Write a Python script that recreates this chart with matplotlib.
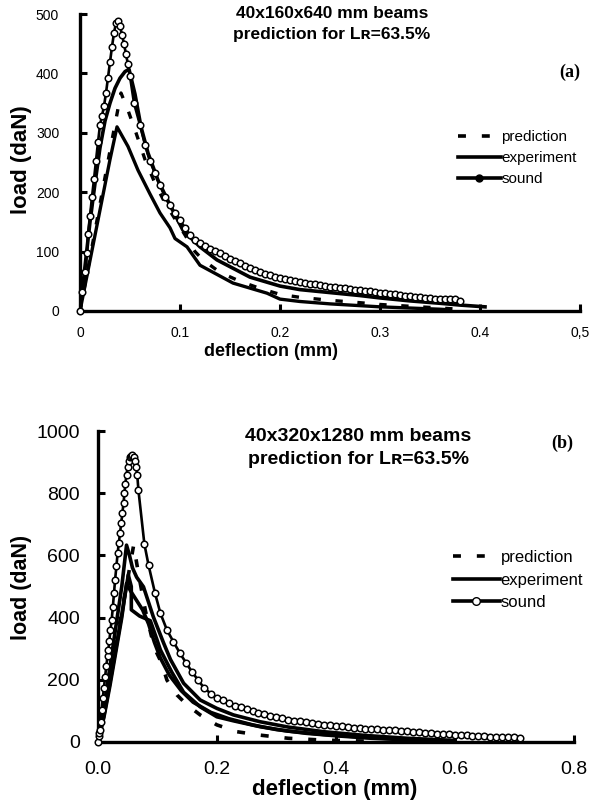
import matplotlib
matplotlib.use('Agg')
import matplotlib.pyplot as plt
from matplotlib.lines import Line2D

plt.rcParams['font.family'] = ['Liberation Sans', 'DejaVu Sans']

# ---------------- panel (a): 40x160x640 mm beams ----------------
a_sound_x = [0, 0.002, 0.005, 0.007, 0.008, 0.010, 0.012, 0.014, 0.016, 0.018,
             0.020, 0.022, 0.024, 0.026, 0.028, 0.030, 0.032, 0.034, 0.036, 0.038,
             0.040, 0.042, 0.044, 0.046, 0.048, 0.050, 0.054, 0.060, 0.065, 0.070,
             0.075, 0.080, 0.085, 0.090, 0.095, 0.100, 0.105, 0.110, 0.115, 0.120,
             0.125, 0.130, 0.135, 0.140, 0.145, 0.150, 0.155, 0.160, 0.165, 0.170,
             0.175, 0.180, 0.185, 0.190, 0.195, 0.200, 0.205, 0.210, 0.215, 0.220,
             0.225, 0.230, 0.235, 0.240, 0.245, 0.250, 0.255, 0.260, 0.265, 0.270,
             0.275, 0.280, 0.285, 0.290, 0.295, 0.300, 0.305, 0.310, 0.315, 0.320,
             0.325, 0.330, 0.335, 0.340, 0.345, 0.350, 0.355, 0.360, 0.365, 0.370,
             0.375, 0.380]
a_sound_y = [0, 32, 65, 97, 130, 160, 192, 222, 253, 284,
             313, 328, 345, 367, 393, 419, 445, 468, 485, 488,
             480, 465, 450, 432, 415, 395, 350, 313, 280, 252,
             232, 212, 192, 178, 165, 153, 140, 128, 120, 115,
             110, 105, 101, 97, 92, 88, 84, 80, 76, 72,
             69, 66, 63, 61, 58, 56, 54, 52, 50, 49,
             47, 46, 45, 44, 42, 41, 40, 39, 38, 37,
             36, 35, 34, 33, 32, 31, 30, 29, 28, 27,
             26, 25, 24, 23, 22, 22, 21, 21, 21, 21,
             20, 17]

a_exp1_x = [0, 0.005, 0.010, 0.015, 0.020, 0.025, 0.030, 0.035, 0.040, 0.045,
            0.049, 0.055, 0.061, 0.068, 0.078, 0.091, 0.103, 0.120, 0.137, 0.170,
            0.200, 0.220, 0.250, 0.280, 0.300, 0.330, 0.360, 0.380, 0.405]
a_exp1_y = [0, 75, 150, 215, 275, 320, 350, 375, 392, 403,
            407, 365, 310, 266, 220, 175, 136, 108, 86, 57,
            42, 36, 31, 26, 22, 17, 13, 10, 7]

a_exp2_x = [0, 0.010, 0.020, 0.030, 0.037, 0.048, 0.058, 0.070, 0.080, 0.090,
            0.095, 0.107, 0.120, 0.153, 0.187, 0.200, 0.220, 0.250, 0.280, 0.300,
            0.330, 0.360, 0.370]
a_exp2_y = [0, 85, 170, 255, 310, 277, 237, 197, 165, 140,
            122, 108, 77, 47, 30, 20, 16, 12, 9, 7,
            5, 3, 2]

a_pred_x = [0, 0.010, 0.020, 0.030, 0.041, 0.048, 0.056, 0.065, 0.075, 0.085,
            0.095, 0.105, 0.115, 0.123, 0.140, 0.160, 0.180, 0.200, 0.220, 0.250,
            0.280, 0.300, 0.330, 0.360, 0.380]
a_pred_y = [0, 90, 180, 270, 367, 338, 300, 255, 215, 182,
            155, 128, 100, 86, 65, 50, 38, 28, 23, 18,
            14, 11, 8, 5, 3]

a_xticks = [0, 0.1, 0.2, 0.3, 0.4, 0.5]
a_xticklabels = ['0', '0.1', '0.2', '0.3', '0.4', '0,5']
a_yticks = [0, 100, 200, 300, 400, 500]

# ---------------- panel (b): 40x320x1280 mm beams ----------------
b_sound_x = [0, 0.001, 0.002, 0.0035, 0.005, 0.006, 0.008, 0.010, 0.012, 0.014,
             0.016, 0.0175, 0.019, 0.021, 0.023, 0.025, 0.027, 0.0287, 0.031, 0.033,
             0.035, 0.037, 0.039, 0.041, 0.043, 0.0445, 0.046, 0.048, 0.050, 0.052,
             0.054, 0.056, 0.058, 0.060, 0.062, 0.064, 0.066, 0.068, 0.078, 0.085,
             0.096, 0.105, 0.116, 0.127, 0.138, 0.148, 0.158, 0.168, 0.178, 0.190,
             0.200, 0.210, 0.220, 0.230, 0.240, 0.250, 0.260, 0.270, 0.280, 0.290,
             0.300, 0.310, 0.320, 0.330, 0.340, 0.350, 0.360, 0.370, 0.380, 0.390,
             0.400, 0.410, 0.420, 0.430, 0.440, 0.450, 0.460, 0.470, 0.480, 0.490,
             0.500, 0.510, 0.520, 0.530, 0.540, 0.550, 0.560, 0.570, 0.580, 0.590,
             0.600, 0.610, 0.620, 0.630, 0.640, 0.650, 0.660, 0.670, 0.680, 0.690,
             0.700, 0.710]
b_sound_y = [0, 20, 30, 40, 65, 103, 140, 175, 210, 245,
             275, 296, 325, 360, 392, 435, 480, 521, 565, 607,
             640, 671, 703, 735, 770, 800, 830, 860, 885, 905,
             915, 920, 923, 918, 905, 885, 860, 810, 637, 569,
             478, 414, 360, 322, 285, 255, 226, 200, 175, 155,
             142, 135, 125, 117, 112, 106, 100, 94, 89, 85,
             80, 76, 72, 69, 66, 63, 60, 58, 56, 54,
             52, 50, 48, 46, 45, 43, 42, 41, 40, 39,
             38, 36, 35, 33, 32, 30, 29, 27, 26, 25,
             24, 22, 21, 20, 19, 18, 17, 17, 16, 15,
             15, 14]

b_exp1_x = [0, 0.010, 0.020, 0.030, 0.040, 0.048, 0.053, 0.058, 0.065, 0.0765,
            0.093, 0.110, 0.122, 0.144, 0.172, 0.200, 0.228, 0.273, 0.320, 0.380,
            0.450, 0.520, 0.600]
b_exp1_y = [0, 110, 240, 370, 500, 633, 600, 560, 530, 499,
            403, 320, 265, 189, 135, 108, 87, 65, 48, 33,
            21, 12, 5]

b_exp2_x = [0, 0.010, 0.020, 0.030, 0.040, 0.051, 0.056, 0.0561, 0.070, 0.088,
            0.099, 0.105, 0.124, 0.144, 0.172, 0.200, 0.228, 0.273, 0.320, 0.380,
            0.450, 0.520, 0.600]
b_exp2_y = [0, 85, 190, 300, 410, 537, 500, 425, 405, 390,
            330, 296, 225, 160, 113, 81, 68, 49, 35, 24,
            15, 8, 3]

b_exp3_x = [0, 0.010, 0.020, 0.030, 0.040, 0.048, 0.055, 0.065, 0.075, 0.085,
            0.095, 0.105, 0.120, 0.140, 0.160, 0.190, 0.220, 0.260, 0.300, 0.350,
            0.400, 0.460, 0.520, 0.580]
b_exp3_y = [0, 80, 180, 290, 400, 510, 485, 455, 425, 380,
            320, 270, 215, 165, 128, 95, 75, 55, 40, 28,
            20, 12, 7, 3]

b_pred_x = [0, 0.010, 0.020, 0.030, 0.040, 0.050, 0.060, 0.068, 0.080, 0.090,
            0.099, 0.107, 0.116, 0.133, 0.150, 0.172, 0.200, 0.234, 0.273, 0.320,
            0.380, 0.450]
b_pred_y = [0, 105, 210, 315, 420, 525, 633, 542, 420, 340,
            286, 254, 199, 151, 119, 87, 55, 33, 22, 12,
            6, 3]

b_xticks = [0, 0.2, 0.4, 0.6, 0.8]
b_xticklabels = ['0.0', '0.2', '0.4', '0.6', '0.8']
b_yticks = [0, 200, 400, 600, 800, 1000]

W, H = 590, 806
fig = plt.figure(figsize=(W / 100, H / 100), dpi=100)
fig.patch.set_facecolor('white')

DASH = (0, (2.2, 4.4))


def style_axes(ax, tick_size, pad_x, pad_y):
    for s in ['top', 'right']:
        ax.spines[s].set_visible(False)
    for s in ['left', 'bottom']:
        ax.spines[s].set_linewidth(2.4)
    ax.tick_params(direction='in', length=5, width=2.2, labelsize=tick_size)
    ax.tick_params(axis='x', pad=pad_x)
    ax.tick_params(axis='y', pad=pad_y)


def sound_line(ax, x, y, ms):
    ax.plot(x, y, color='black', lw=1.9, marker='o', ms=ms, mfc='white',
            mec='black', mew=1.1, clip_on=False, zorder=4)


# ---- (a) ----
ax = fig.add_axes([80 / W, 1 - 311 / H, 500 / W, 297 / H])
ax.plot(a_exp1_x, a_exp1_y, color='black', lw=2.6, zorder=3)
ax.plot(a_exp2_x, a_exp2_y, color='black', lw=2.4, zorder=3)
ax.plot(a_pred_x, a_pred_y, color='black', lw=2.4, ls=DASH, zorder=3)
sound_line(ax, a_sound_x, a_sound_y, 4.7)
ax.set_xlim(0, 0.5)
ax.set_ylim(0, 500)
ax.set_xticks(a_xticks)
ax.set_xticklabels(a_xticklabels)
ax.set_yticks(a_yticks)
style_axes(ax, 10, 11, 15)
ax.set_xlabel('deflection (mm)', fontsize=13, fontweight='bold', va='center')
ax.xaxis.set_label_coords((271 - 80) / 500, (311 - 352) / 297)
ax.set_ylabel('load (daN)', fontsize=16, fontweight='bold', va='center')
ax.yaxis.set_label_coords((22 - 80) / 500, (311 - 160) / 297)

handles_a = [
    Line2D([], [], color='black', lw=2.6, ls=DASH),
    Line2D([], [], color='black', lw=2.6),
    Line2D([], [], color='black', lw=2.6, marker='o', ms=5, mfc='black', mec='black'),
]
ax.legend(handles_a, ['prediction', 'experiment', 'sound'], loc='center left',
          bbox_to_anchor=((458 - 80) / 500, (311 - 158) / 297), frameon=False,
          fontsize=11, handlelength=2.8, handletextpad=0.05, labelspacing=0.45,
          borderpad=0, borderaxespad=0)

fig.text(332 / W, 1 - 13 / H, '40x160x640 mm beams', ha='center', va='center',
         fontsize=12.5, fontweight='bold')
fig.text(332 / W, 1 - 35 / H, 'prediction for Lʀ=63.5%', ha='center', va='center',
         fontsize=12.5, fontweight='bold')
fig.text(570 / W, 1 - 72 / H, '(a)', ha='center', va='center', fontsize=13,
         fontweight='bold', family='Liberation Serif')

# ---- (b) ----
ax = fig.add_axes([98 / W, 1 - 742 / H, 475.5 / W, 311 / H])
ax.plot(b_exp1_x, b_exp1_y, color='black', lw=2.6, zorder=3)
ax.plot(b_exp2_x, b_exp2_y, color='black', lw=2.6, zorder=3)
ax.plot(b_exp3_x, b_exp3_y, color='black', lw=2.6, zorder=3)
ax.plot(b_pred_x, b_pred_y, color='black', lw=2.6, ls=DASH, zorder=3)
sound_line(ax, b_sound_x, b_sound_y, 4.7)
ax.set_xlim(0, 0.8)
ax.set_ylim(0, 1000)
ax.set_xticks(b_xticks)
ax.set_xticklabels(b_xticklabels)
ax.set_yticks(b_yticks)
style_axes(ax, 14, 14, 13)
ax.set_xlabel('deflection (mm)', fontsize=16, fontweight='bold', va='center')
ax.xaxis.set_label_coords((335 - 98) / 475.5, (742 - 790) / 311)
ax.set_ylabel('load (daN)', fontsize=15.5, fontweight='bold', va='center')
ax.yaxis.set_label_coords((22 - 98) / 475.5, (742 - 587) / 311)

handles_b = [
    Line2D([], [], color='black', lw=2.6, ls=DASH),
    Line2D([], [], color='black', lw=2.6),
    Line2D([], [], color='black', lw=2.6, marker='o', ms=5.5, mfc='white', mec='black'),
]
ax.legend(handles_b, ['prediction', 'experiment', 'sound'], loc='center left',
          bbox_to_anchor=((453 - 98) / 475.5, (742 - 580) / 311), frameon=False,
          fontsize=12, handlelength=2.8, handletextpad=0.05, labelspacing=0.45,
          borderpad=0, borderaxespad=0)

fig.text(358 / W, 1 - 437 / H, '40x320x1280 mm beams', ha='center', va='center',
         fontsize=14, fontweight='bold')
fig.text(358 / W, 1 - 459 / H, 'prediction for Lʀ=63.5%', ha='center', va='center',
         fontsize=14, fontweight='bold')
fig.text(562 / W, 1 - 443 / H, '(b)', ha='center', va='center', fontsize=13,
         fontweight='bold', family='Liberation Serif')

fig.savefig('out.png', dpi=100, facecolor='white')
